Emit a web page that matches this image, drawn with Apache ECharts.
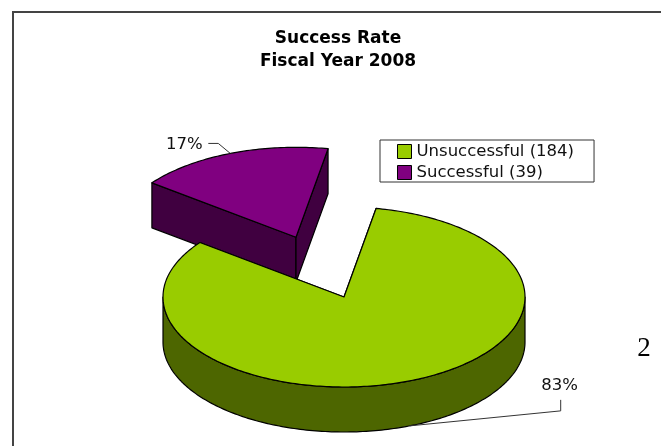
<!DOCTYPE html>
<html>
<head>
<meta charset="utf-8">
<style>html,body{margin:0;padding:0;background:#fff}#chart{width:661px;height:446px}</style>
<script src="https://cdn.jsdelivr.net/npm/echarts@6/dist/echarts.min.js"></script>
</head>
<body>
<div id="chart"></div>
<script>
// Outcome counts for the fiscal year
const outcomes = ['Unsuccessful', 'Successful'];
const counts = [184, 39];
const titleLines = ['Success Rate', 'Fiscal Year 2008'];
const pageNumber = '2';

const topColors = ['#99CC00', '#800080'];
const wallColors = ['#4D6600', '#400040'];

const total = counts[0] + counts[1];
const TEXT_FONT = '"DejaVu Sans", Verdana, sans-serif';

// Perspective disc geometry
const RX = 181, RY = 90, DEPTH = 45;
const START_DEG = 10.2;
const discs = [
  { cx: 344, cy: 297 },            // main body
  { cx: 296, cy: 237.3 }           // pulled-out wedge
];
// Label placement relative to the leader's rim anchor
const leaders = [
  { bottomRim: true, elbow: [151, -15], tip: [151, -26], text: [150, -40] },
  { bottomRim: false, elbow: [-12, -10], tip: [-22, -10], text: [-46, -8.5] }
];

function rimPoint(d, deg, drop) {
  const a = deg * Math.PI / 180;
  return [d.cx + RX * Math.sin(a), d.cy - RY * Math.cos(a) + (drop || 0)];
}
function arcPoints(d, from, to, drop) {
  const pts = [];
  const n = Math.max(2, Math.ceil(Math.abs(to - from)));
  for (let i = 0; i <= n; i++) pts.push(rimPoint(d, from + (to - from) * i / n, drop));
  return pts;
}
function sliceRange(idx) {
  let from = START_DEG;
  for (let i = 0; i < idx; i++) from += counts[i] / total * 360;
  return [from, from + counts[idx] / total * 360];
}

function wedgeItem(idx) {
  return function (params, api) {
    const value = api.value(0);
    const share = value / total;
    const d = discs[idx];
    const from = sliceRange(idx)[0];
    const to = from + share * 360;
    const edge = { stroke: '#000', lineWidth: 1.2, lineJoin: 'round' };
    const wall = Object.assign({ fill: wallColors[idx] }, edge);
    const top = Object.assign({ fill: topColors[idx] }, edge);
    const centre = [d.cx, d.cy];
    const centreLow = [d.cx, d.cy + DEPTH];
    const children = [];

    // cut faces on either side of the wedge
    [from, to].forEach(function (deg) {
      children.push({ type: 'polygon', shape: { points: [centre, rimPoint(d, deg), rimPoint(d, deg, DEPTH), centreLow] }, style: wall });
    });
    // outer wall: only the front half of the rim faces the viewer
    for (let k = 0; k < 2; k++) {
      const lo = Math.max(from, 90 + 360 * k), hi = Math.min(to, 270 + 360 * k);
      if (hi > lo) {
        const upper = arcPoints(d, lo, hi, 0);
        const lower = arcPoints(d, hi, lo, DEPTH);
        children.push({ type: 'polygon', shape: { points: upper.concat(lower) }, style: wall });
      }
    }
    // top face
    children.push({ type: 'polygon', shape: { points: [centre].concat(arcPoints(d, from, to, 0)) }, style: top });

    // percentage label with its leader
    const mid = (from + to) / 2;
    const lead = leaders[idx];
    const anchor = rimPoint(d, mid, lead.bottomRim ? DEPTH : 0);
    children.push({
      type: 'polyline',
      shape: { points: [anchor, [anchor[0] + lead.elbow[0], anchor[1] + lead.elbow[1]], [anchor[0] + lead.tip[0], anchor[1] + lead.tip[1]]] },
      style: { stroke: '#333', lineWidth: 1, fill: null }
    });
    children.push({
      type: 'text',
      style: {
        x: anchor[0] + lead.text[0], y: anchor[1] + lead.text[1],
        text: Math.round(share * 100) + '%',
        fill: '#111', font: '16.5px ' + TEXT_FONT, align: 'center', verticalAlign: 'middle'
      }
    });
    return { type: 'group', children: children };
  };
}

const chart = echarts.init(document.getElementById('chart'), null, { renderer: 'canvas' });
chart.setOption({
  animation: false,
  backgroundColor: '#fff',
  title: {
    text: titleLines.join('\n'),
    left: 333, top: 22, textAlign: 'center',
    textStyle: { fontFamily: TEXT_FONT, fontSize: 17, fontWeight: 'bold', color: '#000', lineHeight: 23 }
  },
  legend: {
    orient: 'vertical', left: 380, top: 140, icon: 'rect',
    padding: [3, 20, 1, 17], itemGap: 4, itemWidth: 14, itemHeight: 14,
    borderColor: '#333', borderWidth: 1,
    data: outcomes.map(function (n, i) { return n + ' (' + counts[i] + ')'; }),
    itemStyle: { borderColor: '#000', borderWidth: 1 },
    textStyle: { fontFamily: TEXT_FONT, fontSize: 16.5, color: '#111', lineHeight: 14 }
  },
  series: outcomes.map(function (n, i) {
    return {
      type: 'custom',
      name: n + ' (' + counts[i] + ')',
      coordinateSystem: 'none',
      silent: true,
      z: i === 0 ? 3 : 2,
      itemStyle: { color: topColors[i] },
      renderItem: wedgeItem(i),
      data: [[counts[i]]]
    };
  }),
  graphic: [
    { type: 'polyline', shape: { points: [[13, 446], [13, 12], [661, 12]] }, style: { stroke: '#444', lineWidth: 2, fill: null } },
    { type: 'text', style: { x: 644, y: 349, text: pageNumber, fill: '#000', font: '27px "Liberation Serif", serif', align: 'center', verticalAlign: 'middle' } }
  ]
});
</script>
</body>
</html>
